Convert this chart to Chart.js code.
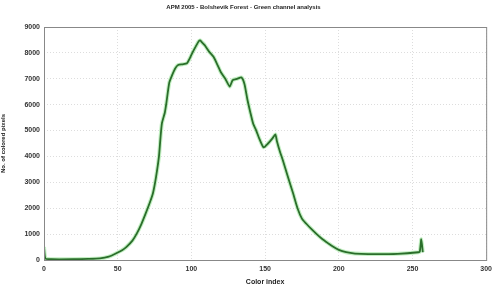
<!DOCTYPE html>
<html>
<head>
<meta charset="utf-8">
<script src="https://cdn.jsdelivr.net/npm/chart.js@4"></script>
<style>
  html, body { margin: 0; padding: 0; background: #fff; }
  #wrap { width: 497px; height: 289px; }
</style>
</head>
<body>
<div id="wrap"><canvas id="chart"></canvas></div>
<script>
// colour index (x) and pixel count (y)
const colorIndex = [0, 1, 5, 20, 30, 38, 44, 49, 53, 56, 60, 63, 66, 69, 72, 74, 76, 78, 79, 80, 82, 83, 85, 87, 89, 91, 94, 97, 99, 101, 103, 105, 106, 107, 109, 112, 115, 118, 120, 123, 126, 128, 131, 134, 136, 138, 140, 142, 144, 146, 149, 152, 155, 157, 158, 160, 162, 165, 169, 172, 175, 178, 181, 185, 189, 192, 196, 200, 205, 211, 220, 240, 254, 255, 256, 257]
const pixelCount = [500, 60, 30, 30, 40, 60, 130, 260, 380, 510, 750, 1030, 1380, 1800, 2250, 2600, 3200, 4000, 4700, 5280, 5700, 6050, 6850, 7150, 7400, 7530, 7560, 7600, 7800, 8040, 8250, 8450, 8480, 8420, 8300, 8050, 7850, 7500, 7250, 7000, 6700, 6950, 7000, 7050, 6800, 6200, 5700, 5250, 5000, 4700, 4350, 4500, 4700, 4850, 4600, 4200, 3860, 3300, 2575, 2000, 1600, 1400, 1220, 1000, 800, 680, 520, 390, 300, 250, 230, 240, 300, 330, 800, 300]

const xTicks = [0, 50, 100, 150, 200, 250, 300]
const yTicks = [0, 1000, 2000, 3000, 4000, 5000, 6000, 7000, 8000, 9000]

const points = colorIndex.map((x, i) => ({ x: x, y: pixelCount[i] }))

const boxPlugin = {
  id: 'box',
  afterDraw(chart) {
    const { ctx, chartArea: a } = chart
    ctx.save()
    ctx.strokeStyle = '#888'
    ctx.lineWidth = 1
    ctx.strokeRect(a.left + 0.5, a.top + 0.5, a.right - a.left, a.bottom - a.top)
    ctx.restore()
  }
}

const tickFont = { family: 'Liberation Sans', size: 7, weight: 'bold' }

new Chart(document.getElementById('chart'), {
  type: 'line',
  data: {
    datasets: [
      {
        data: points,
        borderColor: '#2b6e2b',
        borderWidth: 1.8,
        pointRadius: 0,
        tension: 0.2,
        fill: false,
        order: 1
      },
      {
        data: points,
        borderColor: 'rgba(120, 220, 120, 0.45)',
        borderWidth: 4,
        pointRadius: 0,
        tension: 0.2,
        fill: false,
        order: 2
      }
    ]
  },
  options: {
    responsive: true,
    maintainAspectRatio: false,
    animation: false,
    layout: { padding: { right: 10, left: 0 } },
    plugins: {
      legend: { display: false },
      tooltip: { enabled: false },
      title: {
        display: true,
        text: 'APM 2005 - Bolshevik Forest - Green channel analysis',
        color: '#222',
        font: { family: 'Liberation Sans', size: 6, weight: 'bold' },
        padding: { top: 4, bottom: 15.8 }
      }
    },
    scales: {
      x: {
        type: 'linear',
        min: 0,
        max: 300,
        afterBuildTicks: (s) => { s.ticks = xTicks.map(v => ({ value: v })) },
        afterFit: (s) => { s.height = 29 },
        grid: { color: '#ddd', drawTicks: false },
        border: { display: false, dash: [1, 2] },
        ticks: { color: '#333', font: tickFont, padding: 5, maxRotation: 0, callback: (v) => String(v) },
        title: {
          display: true,
          text: 'Color index',
          color: '#222',
          font: { family: 'Liberation Sans', size: 7, weight: 'bold' },
          padding: { top: 0, bottom: 3 }
        }
      },
      y: {
        min: 0,
        max: 9000,
        afterBuildTicks: (s) => { s.ticks = yTicks.map(v => ({ value: v })) },
        afterFit: (s) => { s.width = 44 },
        grid: { color: '#ddd', drawTicks: false },
        border: { display: false, dash: [1, 2] },
        ticks: { color: '#333', font: tickFont, padding: 4, callback: (v) => String(v) },
        title: {
          display: true,
          text: 'No. of colored pixels',
          color: '#222',
          font: { family: 'Liberation Sans', size: 6, weight: 'bold' },
          padding: { top: 0, bottom: 0 }
        }
      }
    }
  },
  plugins: [boxPlugin]
})
</script>
</body>
</html>
